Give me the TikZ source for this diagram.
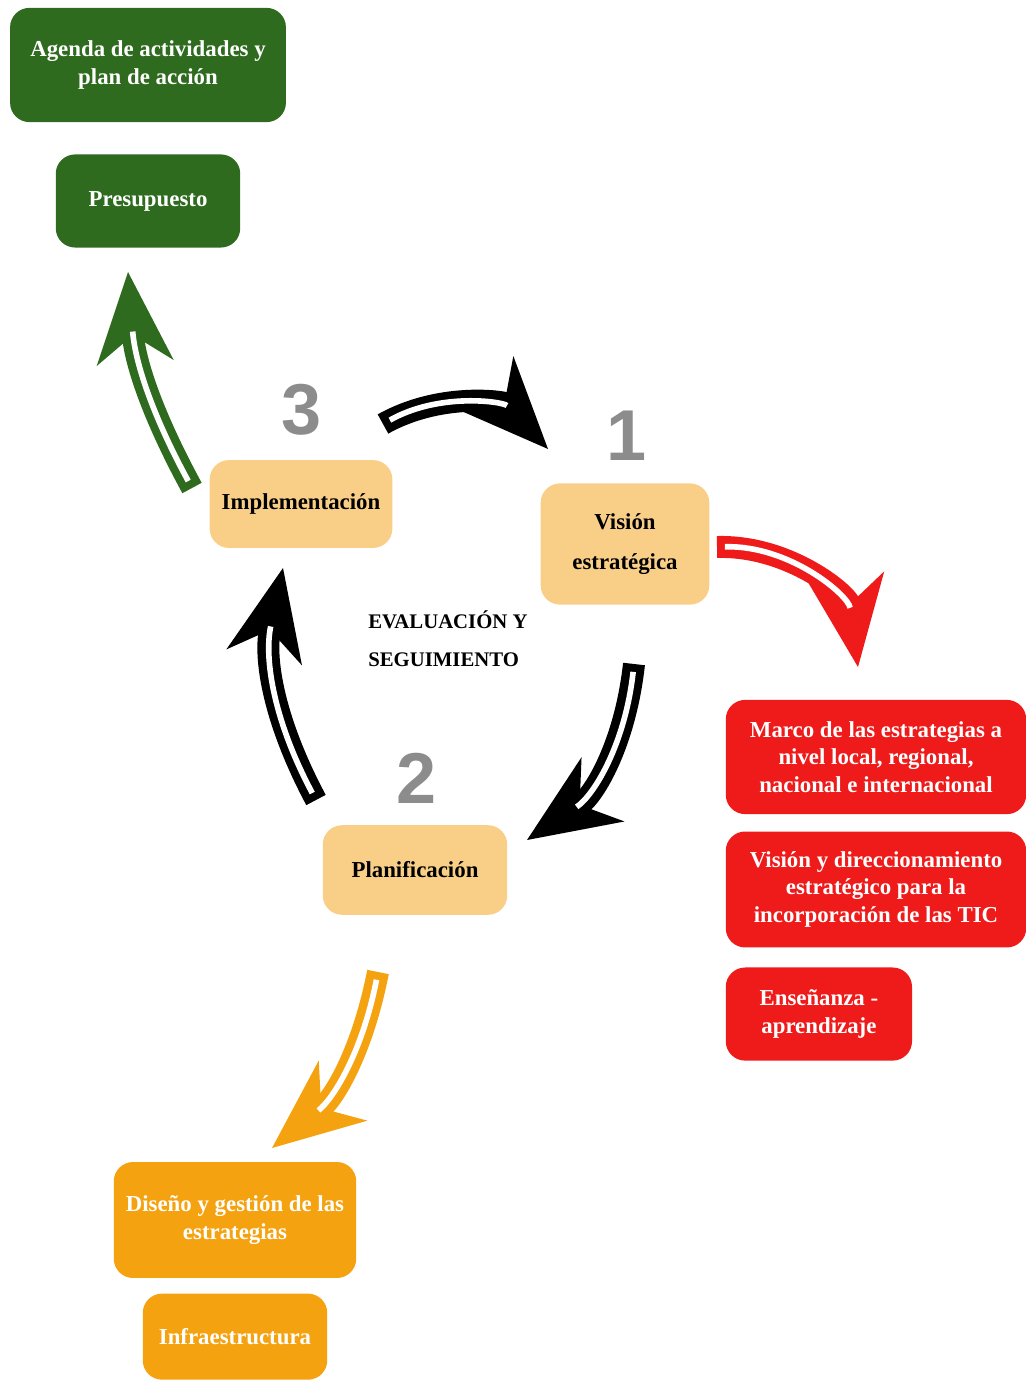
\documentclass[tikz,border=0pt]{standalone}
\usepackage{fontspec}
\setmainfont{Liberation Serif}
\newfontfamily\numfont{Liberation Sans}
\usetikzlibrary{positioning,arrows.meta}
\definecolor{hojaverde}{HTML}{2E6B1E}
\definecolor{arena}{HTML}{F9CF88}
\definecolor{rojo}{HTML}{EF1B1B}
\definecolor{naranja}{HTML}{F5A211}
\definecolor{gris}{HTML}{8C8C8C}
\tikzset{
  caja/.style={rectangle,rounded corners=11pt,align=center,inner sep=2pt,
    font=\fontsize{13}{15.5}\selectfont\bfseries},
  fase/.style={caja,fill=arena,text=black},
  verde/.style={caja,fill=hojaverde,text=white},
  roja/.style={caja,fill=rojo,text=white},
  naranjo/.style={caja,fill=naranja,text=white},
  numero/.style={font=\numfont\fontsize{41}{41}\selectfont\bfseries,text=gris},
  hueca/.style={line width=12.5pt,draw=#1,
    -{Stealth[length=52pt,width=44pt,inset=16pt,line width=0pt]}},
  hueco/.style={line width=3.2pt,draw=white,shorten <=4.5pt,shorten >=34pt}
}
\begin{document}
\begin{tikzpicture}[x=0.02cm,y=-0.02cm]
  \useasboundingbox (0,0) rectangle (1026,1383);
  % cajas de las fases
  \node[fase,minimum width=104pt,minimum height=50pt] (impl) at (301,504) {Implementación};
  \node[fase,minimum width=96pt,minimum height=69pt] (vision) at (625,544) {Visión\\[7pt]estratégica};
  \node[fase,minimum width=105pt,minimum height=51pt] (plan) at (415,870) {Planificación};
  \node[numero] (n3) at (302,410) {3};
  \node[numero] (n1) at (627,436) {1};
  \node[numero] (n2) at (417,778) {2};
  \node[anchor=west,align=left,inner sep=0pt,font=\fontsize{11.8}{21.5}\selectfont\bfseries] (eval) at (368,639) {EVALUACIÓN Y\\SEGUIMIENTO};
  % cajas verdes
  \node[verde,minimum width=157pt,minimum height=65pt] (agenda) at (148,65) {Agenda de actividades y\\plan de acción};
  \node[verde,minimum width=105pt,minimum height=53pt,below=18pt of agenda] (presupuesto) {Presupuesto};
  % cajas rojas
  \node[roja,minimum width=171pt,minimum height=65pt] (marco) at (876,757) {Marco de las estrategias a\\nivel local, regional,\\nacional e internacional};
  \node[roja,minimum width=171pt,minimum height=66pt,below=9.5pt of marco] (vtic) {Visión y direccionamiento\\estratégico para la\\incorporación de las TIC};
  \node[roja,minimum width=106pt,minimum height=53pt,below right=11pt and 0pt of vtic.south west] (ensenanza) {Enseñanza -\\aprendizaje};
  % cajas naranjas
  \node[naranjo,minimum width=138pt,minimum height=66pt] (diseno) at (235,1220) {Diseño y gestión de las\\estrategias};
  \node[naranjo,minimum width=105pt,minimum height=49pt,below=8.5pt of diseno] (infra) {Infraestructura};
  % extremos de las flechas
  \coordinate (g1) at (192,488);
  \coordinate (g2) at (128,272);
  \coordinate (a1) at (383,424);
  \coordinate (a2) at (548,449);
  \coordinate (r1) at (717,547);
  \coordinate (r2) at (858,667);
  \coordinate (b1) at (634,664);
  \coordinate (b2) at (527,840);
  \coordinate (c1) at (316,800);
  \coordinate (c2) at (283,568);
  \coordinate (o1) at (378,972);
  \coordinate (o2) at (272,1148);
  % flechas huecas
  \draw[hueca=hojaverde] (g1) to[bend left=12] (g2);
  \draw[hueco] (g1) to[bend left=12] (g2);
  \draw[hueca=black] (a1) to[bend left=38] (a2);
  \draw[hueco] (a1) to[bend left=38] (a2);
  \draw[hueca=rojo] (r1) to[bend left=42] (r2);
  \draw[hueco] (r1) to[bend left=42] (r2);
  \draw[hueca=black] (b1) to[bend left=25] (b2);
  \draw[hueco] (b1) to[bend left=25] (b2);
  \draw[hueca=black] (c1) to[bend left=20] (c2);
  \draw[hueco] (c1) to[bend left=20] (c2);
  \draw[hueca=naranja] (o1) to[bend left=20] (o2);
  \draw[hueco] (o1) to[bend left=20] (o2);
\end{tikzpicture}
\end{document}
